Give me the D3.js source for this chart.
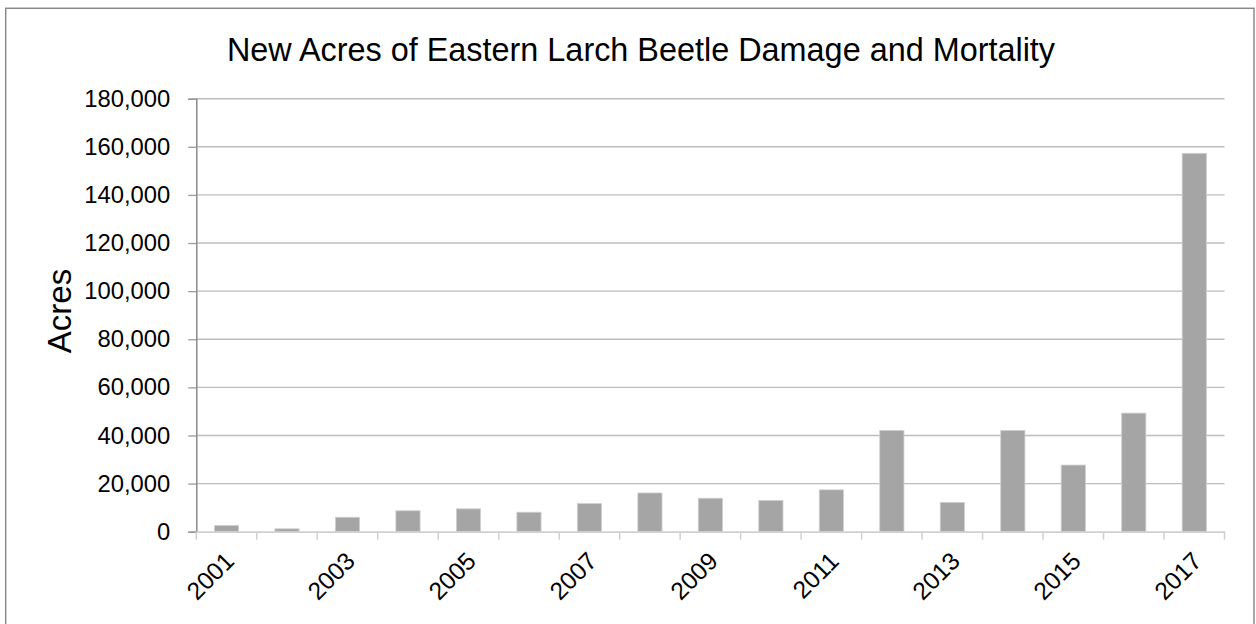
<!DOCTYPE html>
<html>
<head>
<meta charset="utf-8">
<script src="https://cdn.jsdelivr.net/npm/d3@7"></script>
<style>
  html, body { margin: 0; padding: 0; background: #fff; }
  svg { display: block; font-family: "Liberation Sans", Arial, sans-serif; }
</style>
</head>
<body>
<svg id="chart" width="1256" height="624"></svg>
<script>
const title = "New Acres of Eastern Larch Beetle Damage and Mortality";
const yAxisTitle = "Acres";
const years = ["2001","2002","2003","2004","2005","2006","2007","2008","2009","2010","2011","2012","2013","2014","2015","2016","2017"];
const acres = [2600, 1200, 6000, 8700, 9500, 8100, 11700, 16100, 13900, 13000, 17400, 42100, 12200, 42100, 27700, 49300, 157300];
const yTicks = [0, 20000, 40000, 60000, 80000, 100000, 120000, 140000, 160000, 180000];
const xLabelYears = ["2001","2003","2005","2007","2009","2011","2013","2015","2017"];

const svg = d3.select("#chart");
const plotLeft = 196.3, plotRight = 1224.5, plotTop = 98.7, plotBottom = 531.7;

// chart border
svg.append("rect")
  .attr("x", 5.7).attr("y", 8.3)
  .attr("width", 1254 - 5.7).attr("height", 700)
  .attr("fill", "none").attr("stroke", "#8a8a8a").attr("stroke-width", 1.5);

const x = d3.scaleBand().domain(years).range([plotLeft, plotRight]).paddingInner(0.6).paddingOuter(0.3);
const xb = d3.scaleBand().domain(years).range([plotLeft, plotRight]);
const y = d3.scaleLinear().domain([0, 180000]).range([plotBottom, plotTop]);

// gridlines
svg.append("g").selectAll("line").data(yTicks.filter(d => d > 0)).join("line")
  .attr("x1", plotLeft).attr("x2", plotRight)
  .attr("y1", d => y(d)).attr("y2", d => y(d))
  .attr("stroke", "#bdbdbd").attr("stroke-width", 1.4);

// y axis
const yAxis = d3.axisLeft(y).tickValues(yTicks).tickSize(8).tickPadding(18)
  .tickFormat(d3.format(","));
const gy = svg.append("g").attr("transform", `translate(${plotLeft},0)`).call(yAxis);
gy.select(".domain").attr("stroke", "#8c8c8c").attr("stroke-width", 1.5);
gy.selectAll(".tick line").attr("stroke", "#9a9a9a").attr("stroke-width", 1.3);
gy.selectAll(".tick text").attr("font-size", 23.8).attr("fill", "#000")
  .attr("font-family", "Liberation Sans, Arial, sans-serif");

// bars
svg.append("g").selectAll("rect").data(years).join("rect")
  .attr("x", (d) => x(d))
  .attr("width", x.bandwidth())
  .attr("y", (d, i) => y(acres[i]))
  .attr("height", (d, i) => y(0) - y(acres[i]))
  .attr("fill", "#a5a5a5")
  .attr("stroke", "#cfcfcf").attr("stroke-width", 0.8);

// x axis
const xAxis = d3.axisBottom(xb).tickSize(0).tickFormat("");
const gx = svg.append("g").attr("transform", `translate(0,${plotBottom})`).call(xAxis);
gx.select(".domain").attr("stroke", "#d0d0d0").attr("stroke-width", 1.8);
// category boundary ticks
const bounds = years.map(d => xb(d)).concat([plotRight]);
gx.append("g").selectAll("line").data(bounds).join("line")
  .attr("x1", d => d).attr("x2", d => d).attr("y1", 0).attr("y2", 8)
  .attr("stroke", "#d0d0d0").attr("stroke-width", 1.5);

// x labels (every other year), rotated -45
svg.append("g").selectAll("text").data(xLabelYears).join("text")
  .attr("transform", d => `translate(${xb(d) + xb.bandwidth() / 2 + 9},${plotBottom + 31}) rotate(-45)`)
  .attr("text-anchor", "end")
  .attr("font-size", 24.5)
  .attr("fill", "#000")
  .text(d => d);

// y axis title
svg.append("text")
  .attr("transform", `translate(70.5,311) rotate(-90)`)
  .attr("text-anchor", "middle")
  .attr("font-size", 33)
  .attr("fill", "#000")
  .text(yAxisTitle);

// chart title
svg.append("text")
  .attr("x", 641).attr("y", 60.5)
  .attr("text-anchor", "middle")
  .attr("font-size", 32.4)
  .attr("fill", "#000")
  .text(title);
</script>
</body>
</html>
